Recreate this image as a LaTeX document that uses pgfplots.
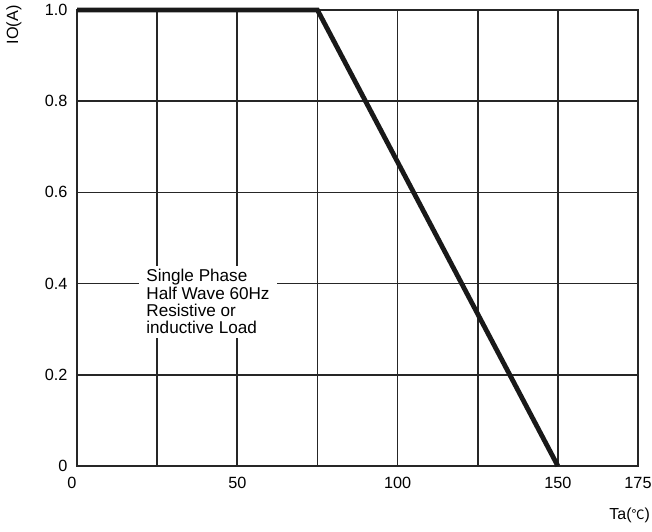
\documentclass[border=0pt]{standalone}
\usepackage{pgfplots}
\pgfplotsset{compat=1.18}
\usepackage{fontspec}
\setmainfont{Liberation Sans}
\newfontfamily\cjk{Noto Sans CJK SC}

\begin{document}
\begin{tikzpicture}[x=1bp,y=1bp]
    % page size matched to the reference
    \useasboundingbox (-77,-66) rectangle (575,466);
    \begin{axis}[
        scale only axis,
        width=561bp, height=456bp,
        xmin=0, xmax=175, ymin=0, ymax=1,
        xtick={0,25,...,175},
        xticklabels={\hspace*{-10bp}0,,\raisebox{-4bp}{50},,100,,\raisebox{-4bp}{150},\raisebox{-4bp}{175}},
        ytick={0,0.2,...,1.0},
        yticklabels={0,0.2,0.4,0.6,0.8,1.0},
        grid=major,
        major tick length=0pt,
        grid style={line width=1.6bp, color=black!85},
        axis line style={line width=1.8bp, color=black!85},
        tick label style={font=\fontsize{16.3}{19}\selectfont},
        xticklabel style={yshift=-8bp},
        yticklabel style={xshift=-6bp},
        /pgf/number format/assume math mode=true,
        clip=false,
    ]
    \addplot[line width=4.8bp, color=black!90, line join=miter]
        coordinates {(0,1) (75,1) (150,0)};
    \node[fill=white, anchor=north west, inner xsep=7bp, inner ysep=4bp,
          align=left,
          font=\fontsize{17.2}{17.4}\selectfont]
        at (axis cs:19.4,0.44)
        {Single Phase\\Half Wave 60Hz\\Resistive or\\inductive Load};
    \end{axis}
    \node[anchor=east, inner sep=0pt, font=\fontsize{16}{19}\selectfont] at (573,-49)
        {Ta({\cjk\fontsize{13}{16}\selectfont ℃})};
    \node[rotate=90, font=\fontsize{16.3}{19}\selectfont] at (-63,441) {IO(A)};
\end{tikzpicture}
\end{document}
